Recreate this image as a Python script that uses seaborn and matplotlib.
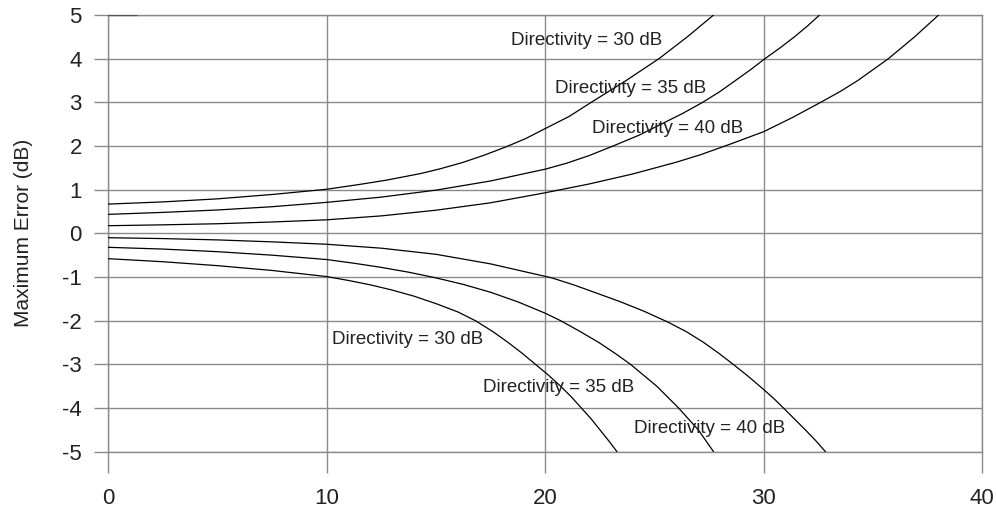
import numpy as np
import pandas as pd
import matplotlib
matplotlib.use("Agg")
import matplotlib.pyplot as plt
import seaborn as sns

# curves (x, maximum error in dB)
up30_x = [0, 2.5, 5, 7.5, 10, 11.5, 12.75, 14.3, 15.2, 16.2, 17.2, 18.2, 19.1, 20, 21.1, 22.1,
          22.9, 23.7, 24.45, 25.2, 25.85, 26.5, 27.1, 27.7]
up30_y = [0.67, 0.72, 0.79, 0.89, 1.01, 1.12, 1.22, 1.37, 1.48, 1.62, 1.79, 1.98, 2.17, 2.4, 2.68, 3.0,
          3.25, 3.5, 3.75, 4.0, 4.25, 4.5, 4.75, 5.0]

up35_x = [0, 2.5, 5, 7.5, 10, 12.5, 15, 17.5, 20, 21, 22, 23.1, 24.3, 25.3, 26.3, 27.2, 28.0,
          28.7, 29.4, 30.05, 30.75, 31.4, 32.0, 32.55]
up35_y = [0.435, 0.48, 0.535, 0.61, 0.71, 0.83, 0.99, 1.2, 1.47, 1.61, 1.78, 2.0, 2.25, 2.5, 2.75, 3.0,
          3.25, 3.5, 3.75, 4.0, 4.25, 4.5, 4.75, 5.0]

up40_x = [0, 2.5, 5, 7.5, 10, 12.5, 15, 17.5, 20, 22, 24, 26, 27.1, 28.5, 30, 31.3, 32.6, 33.5,
          34.3, 35.0, 35.7, 36.3, 36.9, 37.45, 38.0]
up40_y = [0.175, 0.195, 0.22, 0.26, 0.31, 0.4, 0.53, 0.7, 0.93, 1.13, 1.36, 1.63, 1.8, 2.05, 2.33, 2.65,
          3.0, 3.25, 3.5, 3.75, 4.0, 4.25, 4.5, 4.75, 5.0]

lo30_x = [0, 2.5, 5, 7.5, 10, 11, 12, 13, 14, 15, 16, 16.8, 17.6, 18.3, 18.95, 19.55, 20.15,
          20.7, 21.2, 21.65, 22.1, 22.5, 22.9, 23.28]
lo30_y = [-0.58, -0.65, -0.74, -0.85, -0.99, -1.08, -1.18, -1.3, -1.44, -1.61, -1.8, -2.0, -2.25,
          -2.5, -2.75, -3.0, -3.25, -3.5, -3.75, -4.0, -4.25, -4.5, -4.75, -5.0]

lo35_x = [0, 2.5, 5, 7.5, 10, 11.25, 12.5, 13.75, 15, 16.25, 17.5, 18.75, 20, 20.7, 21.6, 22.45,
          23.2, 23.9, 24.5, 25.1, 25.6, 26.1, 26.55, 27.0, 27.35, 27.7]
lo35_y = [-0.32, -0.36, -0.42, -0.5, -0.6, -0.685, -0.78, -0.89, -1.02, -1.17, -1.35, -1.57, -1.83,
          -2.0, -2.25, -2.5, -2.75, -3.0, -3.25, -3.5, -3.75, -4.0, -4.25, -4.5, -4.75, -5.0]

lo40_x = [0, 2.5, 5, 7.5, 10, 12.5, 15, 17.5, 20.3, 21.3, 22.3, 23.4, 24.5, 25.6, 26.45, 27.25,
          27.95, 28.6, 29.3, 30, 30.45, 30.9, 31.4, 31.9, 32.38, 32.82]
lo40_y = [-0.1, -0.12, -0.15, -0.195, -0.25, -0.34, -0.48, -0.7, -1.02, -1.18, -1.36, -1.56, -1.78,
          -2.03, -2.25, -2.5, -2.75, -3.0, -3.28, -3.58, -3.78, -4.0, -4.25, -4.5, -4.75, -5.0]

stub_x = [0, 1.3]
stub_y = [5, 5]

label_text = ["Directivity = 30 dB", "Directivity = 35 dB", "Directivity = 40 dB",
              "Directivity = 30 dB", "Directivity = 35 dB", "Directivity = 40 dB"]
label_x = [18.42, 20.45, 22.13, 10.23, 17.17, 24.04]
label_y = [4.41, 3.32, 2.39, -2.44, -3.53, -4.47]

x_ticks = [0, 10, 20, 30, 40]
y_ticks = [5, 4, 3, 2, 1, 0, -1, -2, -3, -4, -5]

sns.set_theme(style="whitegrid")
plt.rcParams['font.family'] = ['Liberation Sans', 'DejaVu Sans']
plt.rcParams['axes.unicode_minus'] = False

grid_col = "#8a8a8a"
fig = plt.figure(figsize=(9.96, 5.07), dpi=100)
ax = fig.add_axes([0.1087, 0.1091, 0.8776, 0.8613])

curves = [(up30_x, up30_y), (up35_x, up35_y), (up40_x, up40_y),
          (lo30_x, lo30_y), (lo35_x, lo35_y), (lo40_x, lo40_y)]
for cx, cy in curves:
    df = pd.DataFrame({"x": cx, "y": cy})
    sns.lineplot(data=df, x="x", y="y", color="black", linewidth=0.9,
                 estimator=None, sort=False, ax=ax, zorder=3)

sns.lineplot(x=stub_x, y=stub_y, color="#555555", linewidth=1.6, ax=ax, zorder=4)

for t, tx, ty in zip(label_text, label_x, label_y):
    ax.text(tx, ty, t, fontsize=13.5, color="#222222", va="center", ha="left", zorder=5)

ax.set_xlim(0, 40)
ax.set_ylim(-5, 5)
ax.set_xticks(x_ticks)
ax.set_yticks(y_ticks)
ax.set_xlabel("")
ax.set_ylabel("Maximum Error (dB)", fontsize=15, color="#222222", labelpad=21)
ax.grid(True, color=grid_col, linewidth=1.0)
for s in ax.spines.values():
    s.set_color(grid_col)
    s.set_linewidth(1.0)
ax.tick_params(axis="x", direction="out", length=15, width=1.0, color=grid_col,
               pad=11, labelsize=16, labelcolor="#222222", bottom=True)
ax.tick_params(axis="y", direction="out", length=10, width=1.0, color=grid_col,
               pad=9, labelsize=16, labelcolor="#222222", left=True)
ax.set_facecolor("white")

fig.savefig("out.png", dpi=100)
